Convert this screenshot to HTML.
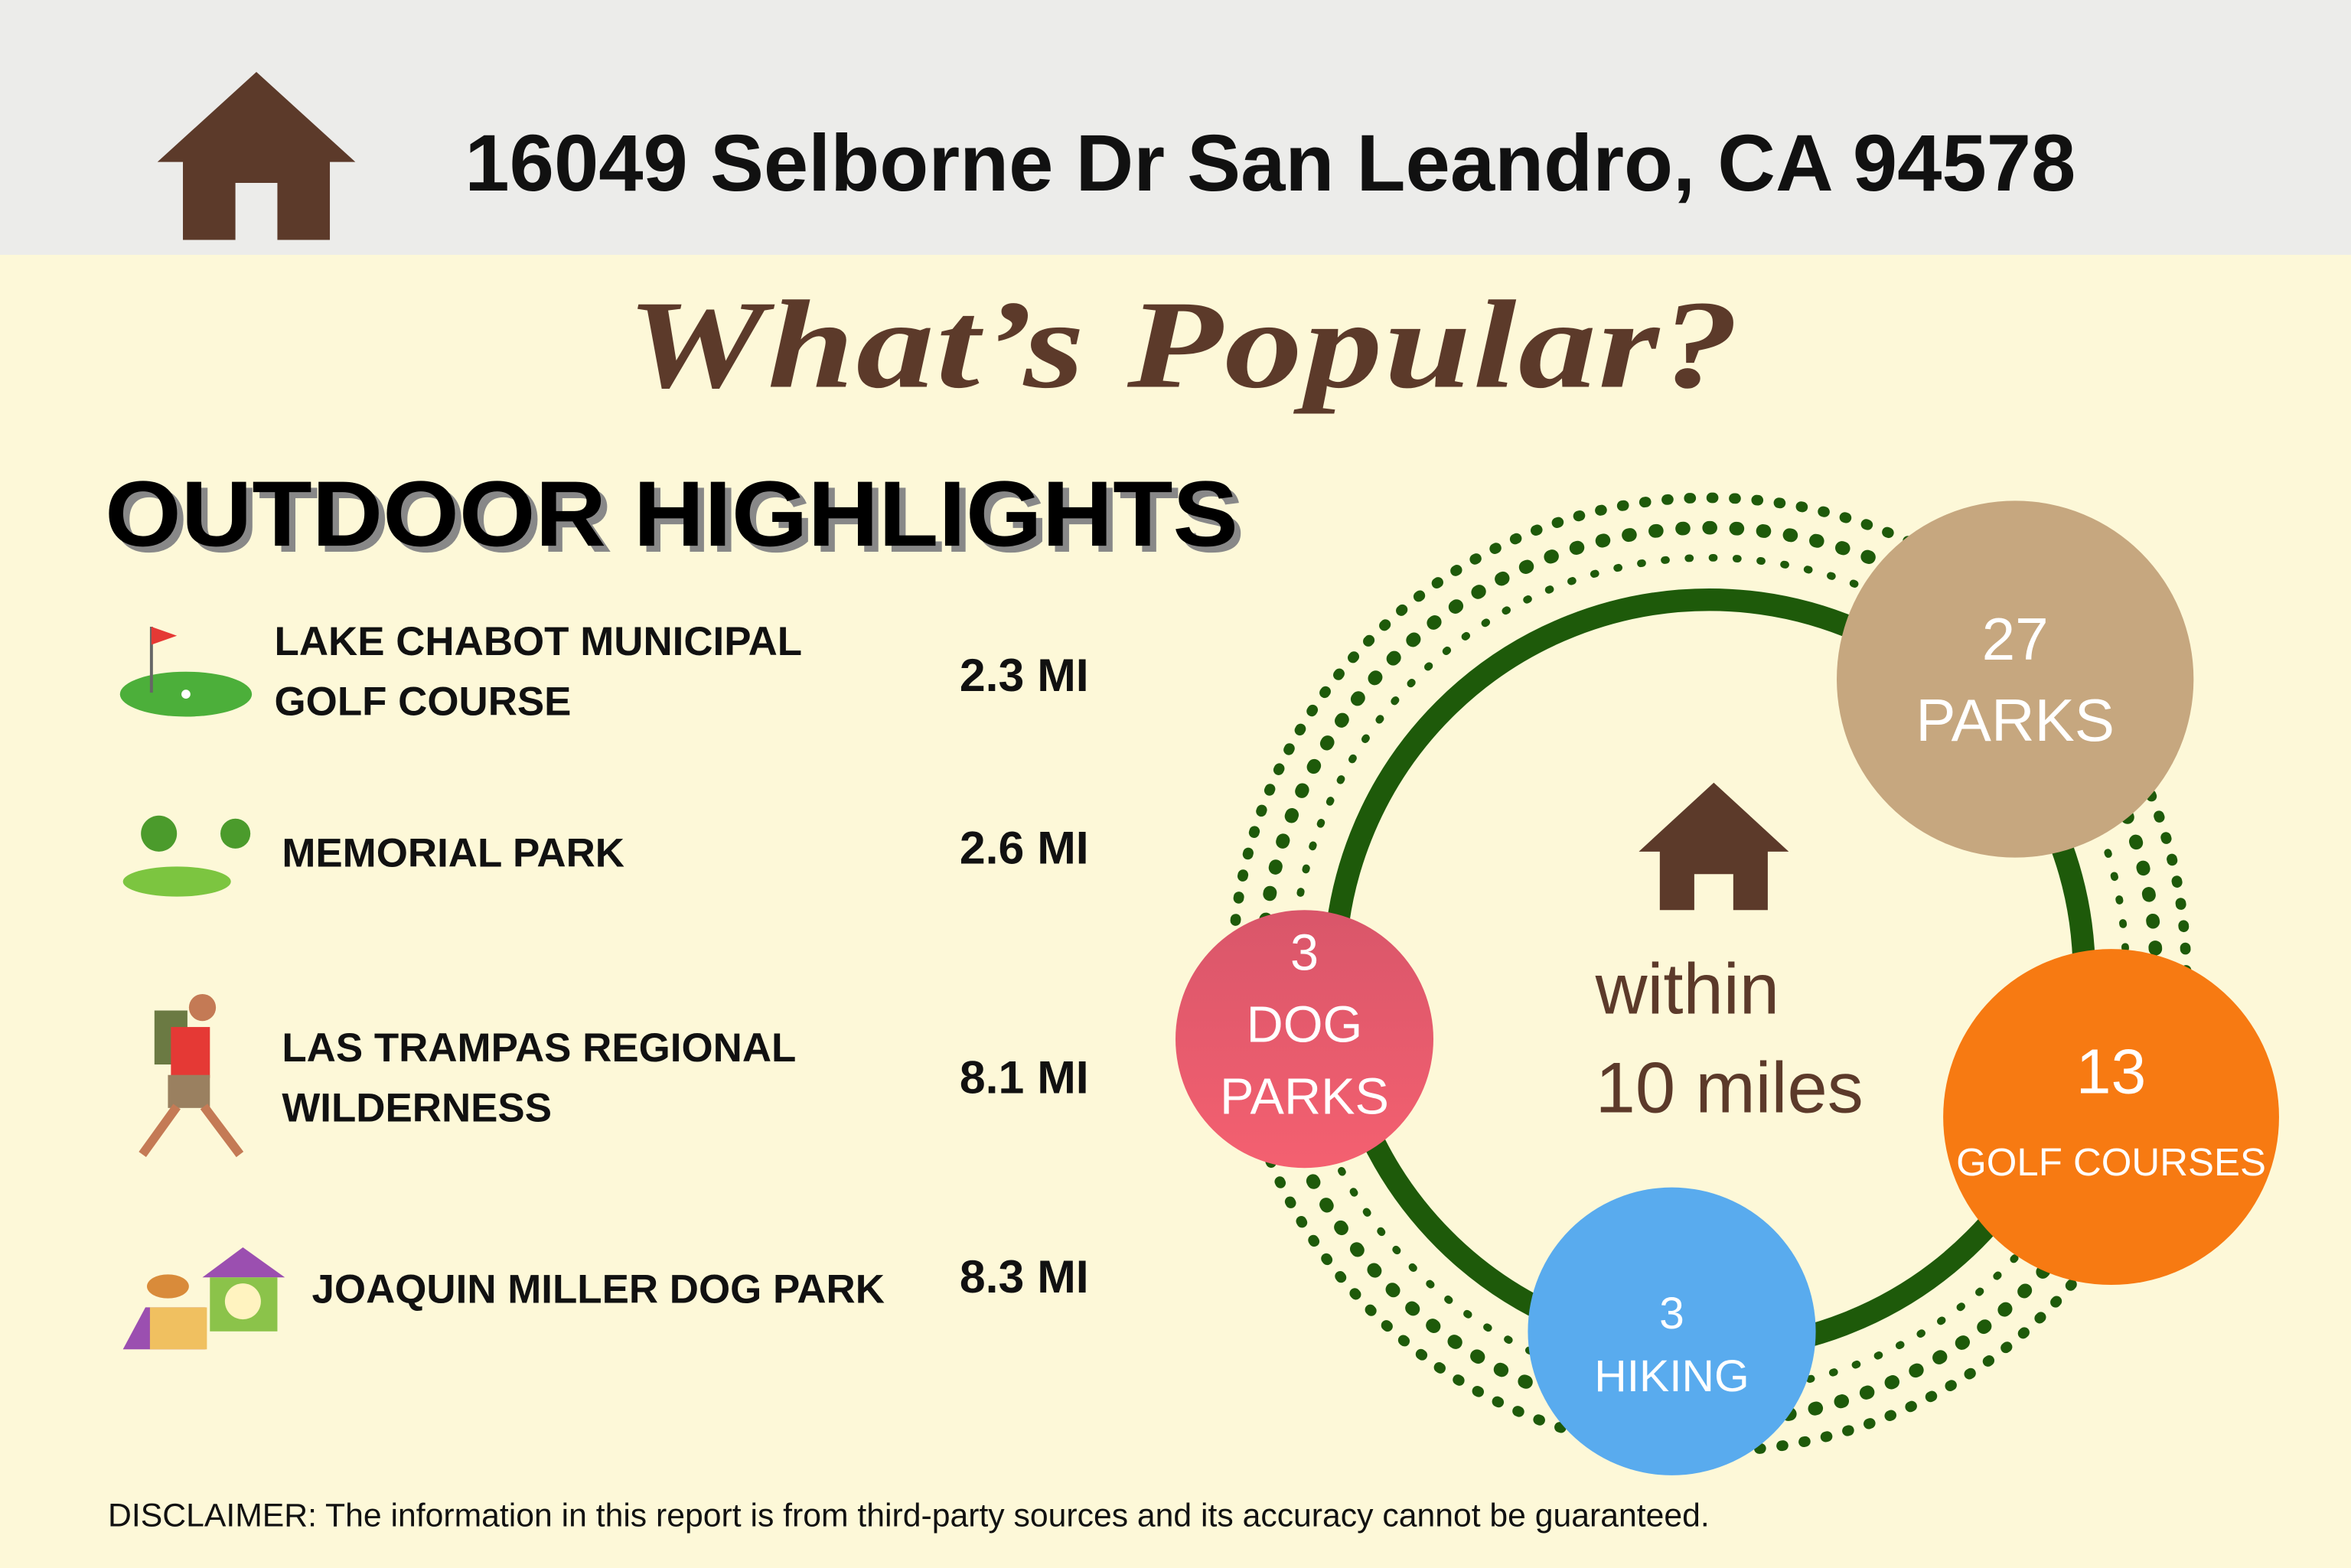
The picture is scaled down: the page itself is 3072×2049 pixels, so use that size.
<!DOCTYPE html>
<html><head><meta charset="utf-8"><style>
html,body{margin:0;padding:0;width:3072px;height:2049px;overflow:hidden;background:#fdf8d8}
#s{position:absolute;left:0;top:0;width:1568px;height:1046px;transform:scale(1.9592);transform-origin:0 0;font-family:"Liberation Sans",sans-serif}
.t{position:absolute;white-space:nowrap}
.li{font-weight:bold;font-size:27px;color:#111;line-height:40px}
.mi{font-weight:bold;font-size:31px;color:#111}
</style></head><body><div id="s">
<div style="position:absolute;left:0;top:0;width:1568px;height:170px;background:#ececea"></div>
<div style="position:absolute;left:0;top:170px;width:1568px;height:876px;background:#fdf8d8"></div>
<svg style="position:absolute;left:0;top:0" width="1568" height="1046">
<polygon points="171,48 105,108 122,108 122,160 157,160 157,122 185,122 185,160 220,160 220,108 237,108" fill="#5c3a2a"/>
<g fill="none">
<circle cx="1140" cy="650" r="318" stroke="#1e5a0a" stroke-width="7" stroke-dasharray="1 14" stroke-linecap="round"/>
<circle cx="1140" cy="650" r="298" stroke="#1e5a0a" stroke-width="9" stroke-dasharray="1 17" stroke-linecap="round"/>
<circle cx="1140" cy="650" r="278" stroke="#1e5a0a" stroke-width="5" stroke-dasharray="1 15" stroke-linecap="round"/>
<circle cx="1140" cy="650" r="250" stroke="#1e5a0a" stroke-width="15"/>
</g>
<polygon points="1143,522 1093,568 1107,568 1107,607 1130,607 1130,583 1156,583 1156,607 1179,607 1179,568 1193,568" fill="#5c3a2a"/>
<defs><linearGradient id="dg" x1="0" y1="0" x2="0" y2="1"><stop offset="0" stop-color="#d9566a"/><stop offset="1" stop-color="#f46070"/></linearGradient></defs>
<circle cx="1344" cy="453" r="119" fill="#c6a77f"/>
<circle cx="870" cy="693" r="86" fill="url(#dg)"/>
<circle cx="1408" cy="745" r="112" fill="#f77a12"/>
<circle cx="1115" cy="888" r="96" fill="#59abee"/>
<ellipse cx="124" cy="463" rx="44" ry="15" fill="#4caf3a"/><line x1="101" y1="418" x2="101" y2="462" stroke="#666" stroke-width="2"/><polygon points="101,418 118,424 101,430" fill="#e53935"/><circle cx="124" cy="463" r="3" fill="#fff"/>
<ellipse cx="118" cy="588" rx="36" ry="10" fill="#7cc540"/><circle cx="106" cy="556" r="12" fill="#4b9b2c"/><circle cx="157" cy="556" r="10" fill="#4b9b2c"/>
<circle cx="135" cy="672" r="9" fill="#c47a55"/><rect x="103" y="674" width="22" height="36" fill="#6b7a43"/><rect x="114" y="685" width="26" height="34" fill="#e53935"/><rect x="112" y="717" width="28" height="22" fill="#9a8060"/><line x1="118" y1="738" x2="95" y2="770" stroke="#c47a55" stroke-width="6"/><line x1="136" y1="738" x2="160" y2="770" stroke="#c47a55" stroke-width="6"/>
<polygon points="82,900 97,872 137,872 137,900" fill="#9b4fb0"/><rect x="100" y="872" width="38" height="28" fill="#f0c060"/><polygon points="135,852 162,832 190,852" fill="#9b4fb0"/><rect x="140" y="852" width="45" height="36" fill="#8bc34a"/><circle cx="162" cy="868" r="12" fill="#fff3c0"/><ellipse cx="112" cy="858" rx="14" ry="8" fill="#d98b3a"/>
</svg>
<div class="t" style="left:310px;top:79px;font-size:53.5px;font-weight:bold;color:#111">16049 Selborne Dr San Leandro, CA 94578</div>
<div class="t" style="left:418px;top:182px;font-family:'Liberation Serif',serif;font-size:84px;font-weight:bold;font-style:italic;color:#5c3a2a;letter-spacing:1px;transform:scaleX(1.24);transform-origin:0 0">What’s Popular?</div>
<div class="t" style="left:70px;top:308px;font-size:62px;font-weight:bold;color:#000;text-shadow:4px 4px 0 #888;transform:scaleX(1.055);transform-origin:0 0">OUTDOOR HIGHLIGHTS</div>
<div class="t li" style="left:183px;top:408px">LAKE CHABOT MUNICIPAL<br>GOLF COURSE</div>
<div class="t li" style="left:188px;top:549px">MEMORIAL PARK</div>
<div class="t li" style="left:188px;top:679px">LAS TRAMPAS REGIONAL<br>WILDERNESS</div>
<div class="t li" style="left:208px;top:840px">JOAQUIN MILLER DOG PARK</div>
<div class="t mi" style="left:640px;top:433px">2.3 MI</div>
<div class="t mi" style="left:640px;top:548px">2.6 MI</div>
<div class="t mi" style="left:640px;top:701px">8.1 MI</div>
<div class="t mi" style="left:640px;top:834px">8.3 MI</div>
<div class="t" style="left:1064px;top:628px;font-size:48px;color:#5c3a2a;line-height:66px">within<br>10 miles</div>
<div class="t" style="left:1224px;top:400px;width:240px;text-align:center;color:#fff;font-size:40px;line-height:54px">27<br>PARKS</div>
<div class="t" style="left:784px;top:612px;width:172px;text-align:center;color:#fff;font-size:34px;line-height:48px">3<br>DOG<br>PARKS</div>
<div class="t" style="left:1296px;top:690px;width:224px;text-align:center;color:#fff;line-height:50px"><span style="font-size:42px">13</span><br><span style="font-size:26px">GOLF COURSES</span></div>
<div class="t" style="left:1019px;top:856px;width:192px;text-align:center;color:#fff;font-size:30px;line-height:42px">3<br>HIKING</div>
<div class="t" style="left:72px;top:998px;font-size:21.8px;color:#111">DISCLAIMER: The information in this report is from third-party sources and its accuracy cannot be guaranteed.</div>
</div></body></html>
